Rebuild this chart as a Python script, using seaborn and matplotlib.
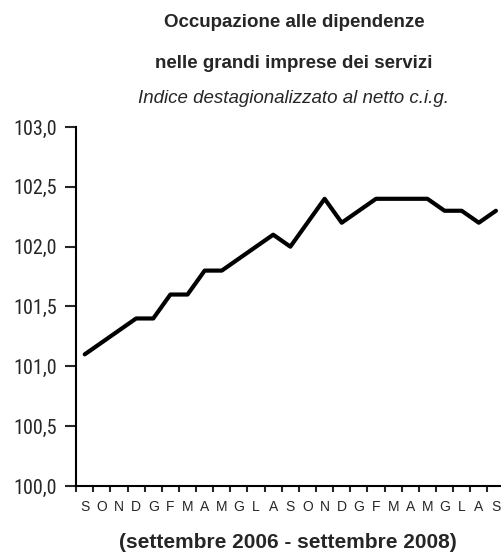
import matplotlib
matplotlib.use("Agg")
import matplotlib.pyplot as plt
import seaborn as sns
import pandas as pd

# mesi da settembre 2006 a settembre 2008
months = ["S", "O", "N", "D", "G", "F", "M", "A", "M", "G", "L", "A",
          "S", "O", "N", "D", "G", "F", "M", "A", "M", "G", "L", "A", "S"]
index = [101.1, 101.2, 101.3, 101.4, 101.4, 101.6, 101.6, 101.8, 101.8,
         101.9, 102.0, 102.1, 102.0, 102.2, 102.4, 102.2, 102.3, 102.4,
         102.4, 102.4, 102.4, 102.3, 102.3, 102.2, 102.3]
yticks = [100.0, 100.5, 101.0, 101.5, 102.0, 102.5, 103.0]

df = pd.DataFrame({"pos": range(len(months)), "indice": index})

sns.set_style("ticks")
plt.rcParams["font.family"] = ["Liberation Sans", "DejaVu Sans"]

fig = plt.figure(figsize=(5.01, 5.55), dpi=100)
ax = fig.add_axes([0.152, 0.1243, 0.855, 0.6469])

sns.lineplot(data=df, x="pos", y="indice", color="black", linewidth=3, ax=ax)

ax.set_xlim(-0.5, len(months) - 0.5)
ax.set_ylim(100.0, 103.0)
ax.set_yticks(yticks)
ax.set_yticklabels([f"{v:.1f}".replace(".", ",") for v in yticks], fontsize=14.5,
                   family=["Roboto Condensed", "Liberation Sans"])

# tacche ai bordi delle categorie, etichette al centro
ax.set_xticks([i - 0.5 for i in range(len(months) + 1)])
ax.set_xticklabels([])
ax.set_xticks(range(len(months)), minor=True)
ax.set_xticklabels(months, minor=True, fontsize=10)
ax.tick_params(axis="x", which="major", length=4, width=1.5, direction="out")
ax.tick_params(axis="x", which="minor", length=0, pad=10)
ax.tick_params(axis="y", length=8, width=1.5, direction="out", pad=6)

for s in ["top", "right"]:
    ax.spines[s].set_visible(False)
for s in ["left", "bottom"]:
    ax.spines[s].set_linewidth(1.5)
    ax.spines[s].set_color("black")
ax.set_xlabel("")
ax.set_ylabel("")

fig.text(0.587, 0.960, "Occupazione alle dipendenze", ha="center", va="center",
         fontsize=13.5, fontweight="bold")
fig.text(0.587, 0.886, "nelle grandi imprese dei servizi", ha="center", va="center",
         fontsize=13.5, fontweight="bold")
fig.text(0.586, 0.822, "Indice destagionalizzato al netto c.i.g.", ha="center", va="center",
         fontsize=13.5, style="italic")
fig.text(0.575, 0.022, "(settembre 2006 - settembre 2008)", ha="center", va="center",
         fontsize=15, fontweight="bold")

fig.savefig("out.png", dpi=100)
